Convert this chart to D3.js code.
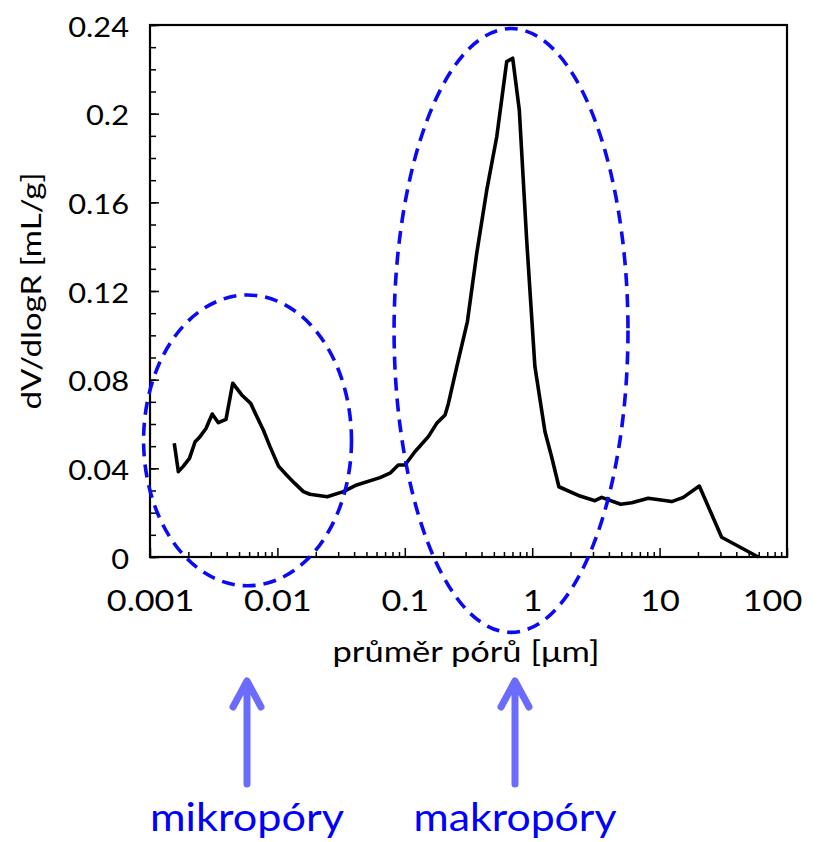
<!DOCTYPE html>
<html>
<head>
<meta charset="utf-8">
<script src="https://cdn.jsdelivr.net/npm/d3@7"></script>
<style>
  body { margin: 0; background: #fff; }
  svg { font-family: Lato, "Open Sans", sans-serif; }
</style>
</head>
<body>
<div id="viz"></div>
<script>
// pore size distribution
let poreSize = [0.00155, 0.00167, 0.00183, 0.00204, 0.00226, 0.00247, 0.00275, 0.00308,
  0.00344, 0.00395, 0.00446, 0.00525, 0.00617, 0.0070, 0.00775, 0.00875, 0.0102,
  0.0118, 0.0137, 0.0160, 0.0180, 0.0246, 0.0329, 0.0419, 0.0639, 0.0765, 0.0889,
  0.1004, 0.120, 0.153, 0.178, 0.207, 0.220, 0.256, 0.310, 0.367, 0.440, 0.527,
  0.631, 0.703, 0.792, 0.905, 1.05, 1.26, 1.42, 1.62, 2.37, 3.11, 3.51, 4.95,
  6.04, 8.15, 12.45, 15.35, 20.5, 30.7, 59.5];
let dVdlogR = [0.0513, 0.0385, 0.041, 0.0445, 0.052, 0.0543, 0.058, 0.0645,
  0.0606, 0.0621, 0.0784, 0.0731, 0.0693, 0.0626, 0.0573, 0.0498, 0.041,
  0.037, 0.0332, 0.0295, 0.0283, 0.0272, 0.0295, 0.0325, 0.0358, 0.0378, 0.0415,
  0.0415, 0.0475, 0.0543, 0.0603, 0.0641, 0.0693, 0.0859, 0.1062, 0.137, 0.1656, 0.1896,
  0.2235, 0.225, 0.2017, 0.143, 0.0859, 0.0565, 0.0452, 0.0317, 0.0275, 0.0254, 0.0269, 0.0238,
  0.0245, 0.0265, 0.025, 0.0269, 0.032, 0.0089, 0];

let xTicks = [0.001, 0.01, 0.1, 1, 10, 100];
let yTicks = [0, 0.04, 0.08, 0.12, 0.16, 0.2, 0.24];

// dashed ellipses: centre (size, value), half width in decades, half height in mL/g
let ellipseNames = ["mikropóry", "makropóry"];
let ellipseCx = [0.00583, 0.682];
let ellipseCy = [0.0526, 0.1022];
let ellipseRx = [0.816, 0.918];
let ellipseRy = [0.0656, 0.1362];

let width = 818, height = 842;
let margin = {left: 150, right: 31, top: 25, bottom: 285};

let svg = d3.select("#viz").append("svg")
  .attr("width", width)
  .attr("height", height);

let x = d3.scaleLog()
  .domain([0.001, 100])
  .range([margin.left, width - margin.right]);

let y = d3.scaleLinear()
  .domain([0, 0.24])
  .range([height - margin.bottom, margin.top]);

// minor ticks
let xMinor = [];
for (let e = -3; e < 2; e++) {
  for (let m = 2; m < 10; m++) xMinor.push(m * Math.pow(10, e));
}
let yMinor = d3.range(0, 25).map(i => i / 100);

svg.append("g")
  .attr("transform", `translate(0,${y(0)})`)
  .call(d3.axisBottom(x).tickValues(xMinor).tickSize(-5).tickFormat(""))
  .call(g => g.select(".domain").remove())
  .selectAll("line").attr("stroke-width", 1.5);

svg.append("g")
  .attr("transform", `translate(${x(0.001)},0)`)
  .call(d3.axisLeft(y).tickValues(yMinor).tickSize(-6).tickFormat(""))
  .call(g => g.select(".domain").remove())
  .selectAll("line").attr("stroke-width", 1.5);

// major ticks and labels (the source font is wide, so labels are stretched a bit)
let sx = 1.18, sy = 1.12;
svg.append("g")
  .attr("transform", `translate(0,${y(0)})`)
  .call(d3.axisBottom(x).tickValues(xTicks).tickSize(-9).tickPadding(33)
    .tickFormat(d => String(d)))
  .call(g => g.select(".domain").remove())
  .call(g => g.selectAll("line").attr("stroke-width", 1.5))
  .call(g => g.selectAll("text").attr("font-size", 29).attr("fill", "#000")
    .attr("font-family", "Lato, sans-serif")
    .attr("x", d => d === 100 ? -15 / sx : 0)
    .attr("transform", `scale(${sx},1)`));

svg.append("g")
  .attr("transform", `translate(${x(0.001)},0)`)
  .call(d3.axisLeft(y).tickValues(yTicks).tickSize(-9)
    .tickFormat(d => String(+d.toFixed(2))))
  .call(g => g.select(".domain").remove())
  .call(g => g.selectAll("line").attr("stroke-width", 1.5))
  .call(g => g.selectAll("text").attr("font-size", 27.5).attr("fill", "#000")
    .attr("font-family", "Lato, sans-serif")
    .attr("x", -21 / sy)
    .attr("dy", "0.4em")
    .attr("transform", `scale(${sy},1)`));

// frame
svg.append("rect")
  .attr("x", x(0.001))
  .attr("y", y(0.24))
  .attr("width", x(100) - x(0.001))
  .attr("height", y(0) - y(0.24))
  .attr("fill", "none")
  .attr("stroke", "#000")
  .attr("stroke-width", 2.2);

// the curve
let line = d3.line()
  .x((d, i) => x(poreSize[i]))
  .y(d => y(d));

svg.append("path")
  .attr("d", line(dVdlogR))
  .attr("fill", "none")
  .attr("stroke", "#000")
  .attr("stroke-width", 3.6)
  .attr("stroke-linejoin", "round");

// ellipses
let kx = (x(10) - x(1));
let ky = (y(0) - y(1));
svg.selectAll("ellipse.zone")
  .data(ellipseNames)
  .join("ellipse")
  .attr("class", "zone")
  .attr("cx", (d, i) => x(ellipseCx[i]))
  .attr("cy", (d, i) => y(ellipseCy[i]))
  .attr("rx", (d, i) => ellipseRx[i] * kx)
  .attr("ry", (d, i) => ellipseRy[i] * ky)
  .attr("fill", "none")
  .attr("stroke", "#0a0af5")
  .attr("stroke-width", 3.6)
  .attr("stroke-dasharray", "13 8");

// axis titles
svg.append("text")
  .attr("x", 466)
  .attr("y", 662)
  .attr("text-anchor", "middle")
  .attr("font-size", 29)
  .attr("textLength", 267)
  .attr("lengthAdjust", "spacingAndGlyphs")
  .attr("fill", "#000")
  .text("průměr pórů [μm]");

svg.append("text")
  .attr("transform", `translate(41,291) rotate(-90)`)
  .attr("text-anchor", "middle")
  .attr("font-size", 27)
  .attr("textLength", 237)
  .attr("lengthAdjust", "spacingAndGlyphs")
  .attr("fill", "#000")
  .text("dV/dlogR [mL/g]");

// arrows and labels under the chart
let arrowTop = 681, arrowBottom = 784;
let arrowX = [247, 515];
let labelWidth = [194, 203];
let marks = svg.selectAll("g.mark")
  .data(ellipseNames)
  .join("g")
  .attr("class", "mark")
  .attr("transform", (d, i) => `translate(${arrowX[i]},0)`);

marks.append("path")
  .attr("d", `M0,${arrowBottom}V${arrowTop + 2}M-14,${arrowTop + 26}L0,${arrowTop}L14,${arrowTop + 26}`)
  .attr("fill", "none")
  .attr("stroke", "#6b6bff")
  .attr("stroke-width", 7)
  .attr("stroke-linecap", "round")
  .attr("stroke-linejoin", "round");

marks.append("text")
  .attr("y", 831)
  .attr("text-anchor", "middle")
  .attr("font-size", 39)
  .attr("textLength", (d, i) => labelWidth[i])
  .attr("lengthAdjust", "spacingAndGlyphs")
  .attr("fill", "#0000ff")
  .text(d => d);
</script>
</body>
</html>
